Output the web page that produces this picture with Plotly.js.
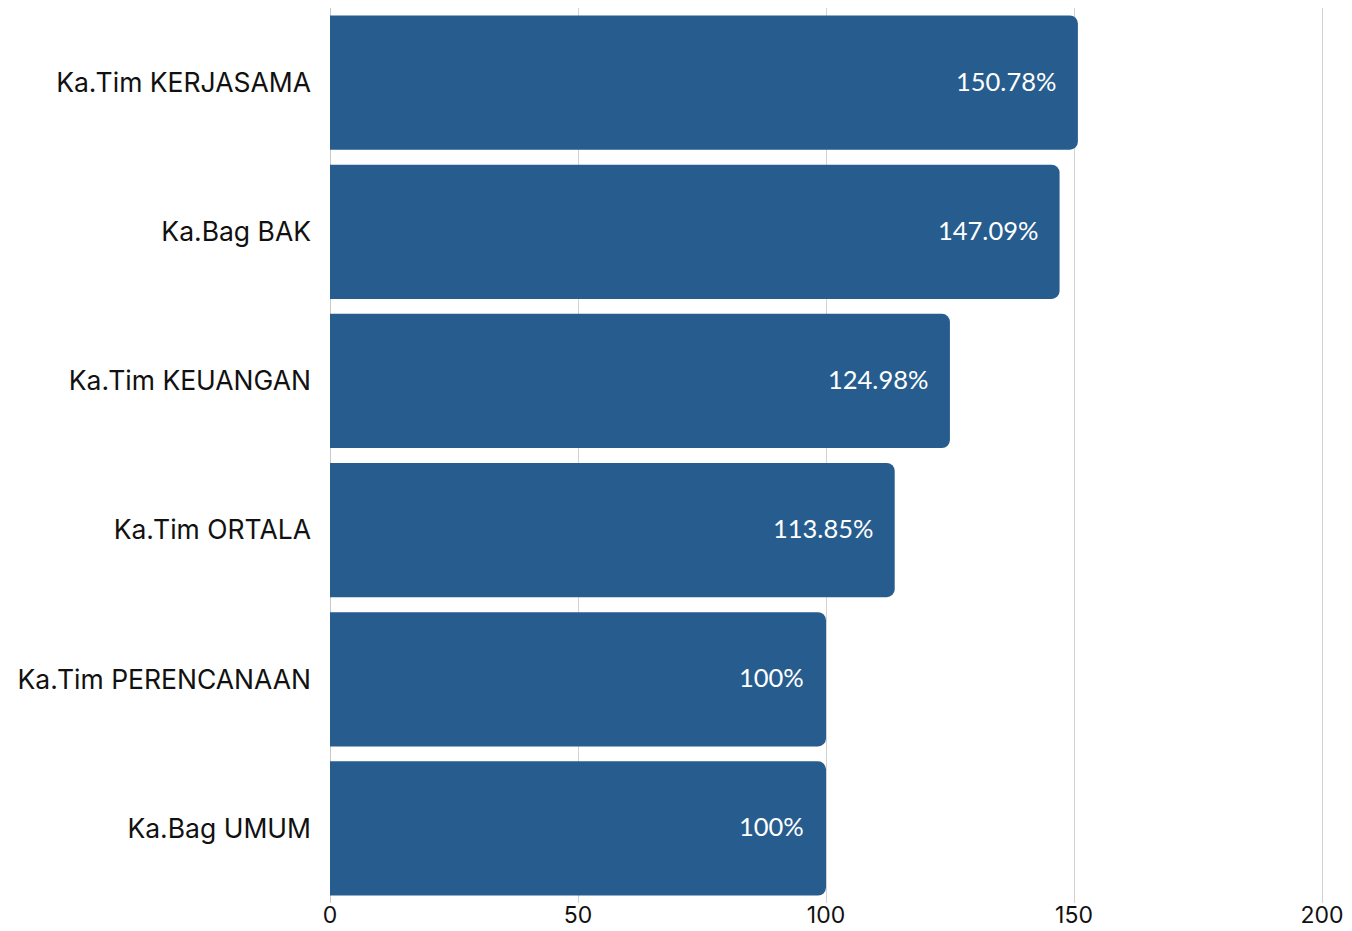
<!DOCTYPE html>
<html><head><meta charset="utf-8">
<script src="https://cdn.plot.ly/plotly-3.0.1.min.js"></script>
<style>html,body{margin:0;padding:0;background:#fff}#c{width:1352px;height:931px}</style>
</head><body><div id="c"></div>
<script>
const categories = ["Ka.Tim KERJASAMA","Ka.Bag BAK","Ka.Tim KEUANGAN","Ka.Tim ORTALA","Ka.Tim PERENCANAAN","Ka.Bag UMUM"];
const values = [150.78,147.09,124.98,113.85,100,100];
const valueLabels = ["150.78%","147.09%","124.98%","113.85%","100%","100%"];
const xTicks = [0,50,100,150,200];

const trace = {
  type:'bar', orientation:'h', y:categories, x:values,
  marker:{color:'#275D8E', cornerradius:8},
  hoverinfo:'none'
};
const annotations = values.map((v,i)=>({
  x:v, y:categories[i], xref:'x', yref:'y', text:valueLabels[i],
  showarrow:false, xanchor:'right', xshift:-20, yshift:2,
  font:{family:'Lato, sans-serif', size:25.5, color:'#ffffff'}
}));
const layout = {
  width:1352, height:931,
  margin:{l:330, r:27, t:8, b:28},
  paper_bgcolor:'#fff', plot_bgcolor:'#fff',
  bargap:0.1, showlegend:false,
  xaxis:{range:[0,200.6], tickvals:xTicks, showgrid:true, gridcolor:'#d3d3d3', gridwidth:1,
    zeroline:true, zerolinecolor:'#c8c8c8', zerolinewidth:1, showline:false,
    ticklabelstandoff:-4,
    tickfont:{family:'Inter, sans-serif', size:23, color:'#111'}, ticks:'', fixedrange:true},
  yaxis:{type:'category', autorange:'reversed', showgrid:false, zeroline:false, showline:false,
    ticklabelstandoff:18, tickfont:{family:'Inter, sans-serif', size:26.5, color:'#111'}, ticks:''},
  annotations:annotations
};
Plotly.newPlot('c',[trace],layout,{displayModeBar:false,staticPlot:true});
</script></body></html>
